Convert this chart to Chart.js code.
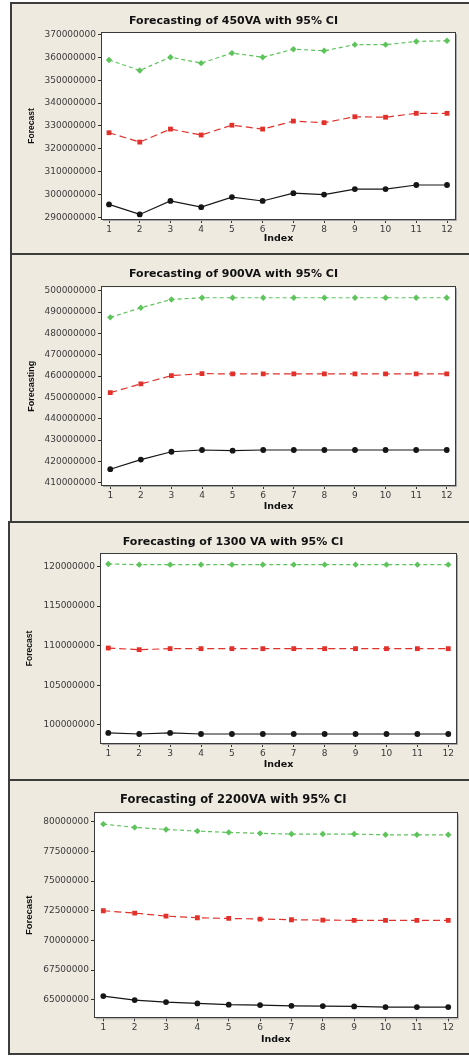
<!DOCTYPE html>
<html>
<head>
<meta charset="utf-8">
<script src="https://cdn.jsdelivr.net/npm/chart.js@4.4.1/dist/chart.umd.min.js"></script>
<style>
  html, body { margin: 0; padding: 0; background: #fff; }
  body { width: 469px; height: 1056px; position: relative; overflow: hidden; }
  .panel { position: absolute; background: #eeeae0; border: 2px solid #3c3c3c; box-sizing: border-box; }
  .panel canvas { display: block; }
</style>
</head>
<body>
<div class="panel" id="p450"><canvas id="c450"></canvas></div>
<div class="panel" id="p900"><canvas id="c900"></canvas></div>
<div class="panel" id="p1300"><canvas id="c1300"></canvas></div>
<div class="panel" id="p2200"><canvas id="c2200"></canvas></div>
<script>
// ---- data ----
const indexLabels = [1, 2, 3, 4, 5, 6, 7, 8, 9, 10, 11, 12];

const va450Upper    = [358900000, 354300000, 360100000, 357500000, 361900000, 360100000, 363600000, 362900000, 365600000, 365600000, 367000000, 367300000];
const va450Forecast = [327000000, 322900000, 328600000, 326000000, 330300000, 328600000, 332100000, 331400000, 334000000, 333800000, 335500000, 335500000];
const va450Lower    = [295600000, 291200000, 297100000, 294400000, 298800000, 297100000, 300500000, 299900000, 302300000, 302300000, 304100000, 304100000];
const va450Ticks    = [290000000, 300000000, 310000000, 320000000, 330000000, 340000000, 350000000, 360000000, 370000000];

const va900Upper    = [487500000, 492000000, 495900000, 496700000, 496700000, 496700000, 496700000, 496700000, 496700000, 496700000, 496700000, 496700000];
const va900Forecast = [452200000, 456300000, 460200000, 461100000, 461000000, 461000000, 461000000, 461000000, 461000000, 461000000, 461000000, 461000000];
const va900Lower    = [416300000, 420800000, 424500000, 425300000, 425000000, 425300000, 425300000, 425300000, 425300000, 425300000, 425300000, 425300000];
const va900Ticks    = [410000000, 420000000, 430000000, 440000000, 450000000, 460000000, 470000000, 480000000, 490000000, 500000000];

const va1300Upper    = [120340000, 120250000, 120250000, 120250000, 120250000, 120250000, 120250000, 120250000, 120250000, 120250000, 120250000, 120250000];
const va1300Forecast = [109700000, 109490000, 109620000, 109620000, 109620000, 109620000, 109620000, 109620000, 109620000, 109620000, 109620000, 109620000];
const va1300Lower    = [98950000, 98820000, 98950000, 98820000, 98820000, 98820000, 98820000, 98820000, 98820000, 98820000, 98820000, 98820000];
const va1300Ticks    = [100000000, 105000000, 110000000, 115000000, 120000000];

const va2200Upper    = [79800000, 79520000, 79350000, 79210000, 79100000, 79020000, 78960000, 78960000, 78960000, 78900000, 78900000, 78900000];
const va2200Forecast = [72500000, 72300000, 72050000, 71910000, 71850000, 71800000, 71740000, 71710000, 71690000, 71690000, 71690000, 71690000];
const va2200Lower    = [65310000, 64970000, 64800000, 64690000, 64580000, 64550000, 64490000, 64470000, 64440000, 64380000, 64380000, 64380000];
const va2200Ticks    = [65000000, 67500000, 70000000, 72500000, 75000000, 77500000, 80000000];

// ---- styles ----
const TICK_FONT = { family: 'DejaVu Sans', size: 9 };
const TICK_COLOR = '#3a3a3a';

const plotBox = {
  id: 'plotBox',
  beforeDraw(chart) {
    const a = chart.chartArea, ctx = chart.ctx;
    ctx.save();
    ctx.fillStyle = '#fff';
    ctx.fillRect(a.left, a.top, a.right - a.left, a.bottom - a.top);
    ctx.restore();
  },
  beforeDatasetsDraw(chart) {
    const a = chart.chartArea, ctx = chart.ctx;
    ctx.save();
    ctx.strokeStyle = '#a8a8a8';
    ctx.lineWidth = 1;
    ctx.beginPath();
    ctx.moveTo(a.right + 1.5, a.top + 1);
    ctx.lineTo(a.right + 1.5, a.bottom + 1.5);
    ctx.lineTo(a.left + 1, a.bottom + 1.5);
    ctx.stroke();
    ctx.strokeStyle = '#3a3a3a';
    ctx.strokeRect(Math.round(a.left) - 0.5, Math.round(a.top) - 0.5,
      Math.round(a.right - a.left) + 1, Math.round(a.bottom - a.top) + 1);
    ctx.restore();
  }
};

function series(vals, color, dash, shape, radius) {
  return {
    data: indexLabels.map((x, i) => ({ x, y: vals[i] })),
    borderColor: color,
    backgroundColor: color,
    borderWidth: 1.2,
    borderDash: dash,
    pointStyle: shape,
    pointRadius: radius,
    pointBorderWidth: 0,
    tension: 0
  };
}

function buildChart(cfg) {
  const panel = document.getElementById(cfg.panel);
  const box = cfg.box;
  Object.assign(panel.style, {
    left: box.left + 'px', top: box.top + 'px',
    width: box.width + 'px', height: box.height + 'px'
  });
  const ox = box.left + 2, oy = box.top + 2;
  const cw = box.width - 4, ch = box.height - 4;
  const canvas = document.getElementById(cfg.canvas);
  canvas.width = cw; canvas.height = ch;
  canvas.style.width = cw + 'px'; canvas.style.height = ch + 'px';

  const p = cfg.plot;
  const titleLH = cfg.titleSize * 1.2;
  const titlePadTop = cfg.titleY - oy - titleLH / 2;
  const titlePadBottom = (p.top - oy) - titlePadTop - titleLH;
  const idxSize = 9.5, idxLH = idxSize * 1.2;
  const xBottom = cfg.indexY + idxLH / 2 + 2;
  const yTitleLH = cfg.yTitleSize * 1.2;

  new Chart(canvas, {
    type: 'line',
    data: {
      datasets: [
        series(cfg.lower, '#161616', [], 'circle', 2.9),
        series(cfg.forecast, '#e2302a', [7, 4], 'rect', 3.4),
        series(cfg.upper, '#5cc45a', [4, 3], 'rectRot', 3.2)
      ]
    },
    options: {
      responsive: false,
      animation: false,
      layout: {
        padding: { left: 0, top: 0, right: cw - (p.right - ox), bottom: ch - (xBottom - oy) }
      },
      plugins: {
        legend: { display: false },
        tooltip: { enabled: false },
        title: {
          display: true,
          text: cfg.title,
          color: '#111',
          font: { family: 'DejaVu Sans', weight: 'bold', size: cfg.titleSize, lineHeight: 1.2 },
          padding: { top: titlePadTop, bottom: titlePadBottom }
        }
      },
      scales: {
        x: {
          type: 'linear',
          min: cfg.xMin, max: cfg.xMax,
          afterFit: (s) => { s.height = xBottom - p.bottom; },
          afterBuildTicks: (s) => { s.ticks = indexLabels.map((v) => ({ value: v })); },
          border: { display: false },
          grid: { drawOnChartArea: false, drawTicks: true, tickLength: 4, color: '#333' },
          ticks: {
            autoSkip: false, maxRotation: 0,
            padding: 1, font: TICK_FONT, color: TICK_COLOR,
            callback: (v) => String(v)
          },
          title: {
            display: true, text: 'Index', color: '#111',
            font: { family: 'DejaVu Sans', weight: 'bold', size: idxSize, lineHeight: 1.2 },
            padding: { top: 0, bottom: 2 }
          }
        },
        y: {
          min: cfg.yMin, max: cfg.yMax,
          afterFit: (s) => { s.width = p.left - ox; },
          afterBuildTicks: (s) => { s.ticks = cfg.ticks.map((v) => ({ value: v })); },
          border: { display: false },
          grid: { drawOnChartArea: false, drawTicks: true, tickLength: 4, color: '#333' },
          ticks: {
            autoSkip: false,
            padding: 2, font: TICK_FONT, color: TICK_COLOR,
            callback: (v) => Math.round(v).toString()
          },
          title: {
            display: true, text: cfg.yTitle, color: '#111',
            font: { family: 'Liberation Sans', weight: 'bold', size: cfg.yTitleSize, lineHeight: 1.2 },
            padding: { top: cfg.yTitleX - ox - yTitleLH / 2, bottom: 0 }
          }
        }
      }
    },
    plugins: [plotBox]
  });
}

buildChart({
  panel: 'p450', canvas: 'c450',
  box: { left: 10, top: 2, width: 462, height: 253 },
  plot: { left: 102, right: 455, top: 33, bottom: 219 },
  title: 'Forecasting of 450VA with 95% CI', titleSize: 11, titleY: 21,
  yTitle: 'Forecast', yTitleSize: 8.5, yTitleX: 31.7, indexY: 239,
  xMin: 0.772, xMax: 12.26, yMin: 289200000, yMax: 370700000, ticks: va450Ticks,
  upper: va450Upper, forecast: va450Forecast, lower: va450Lower
});

buildChart({
  panel: 'p900', canvas: 'c900',
  box: { left: 10, top: 253, width: 462, height: 270 },
  plot: { left: 102, right: 455, top: 287.3, bottom: 485 },
  title: 'Forecasting of 900VA with 95% CI', titleSize: 11, titleY: 274,
  yTitle: 'Forecasting', yTitleSize: 9, yTitleX: 31.7, indexY: 507,
  xMin: 0.73, xMax: 12.27, yMin: 408900000, yMax: 501600000, ticks: va900Ticks,
  upper: va900Upper, forecast: va900Forecast, lower: va900Lower
});

buildChart({
  panel: 'p1300', canvas: 'c1300',
  box: { left: 8, top: 521, width: 464, height: 260 },
  plot: { left: 101, right: 456, top: 554, bottom: 743 },
  title: 'Forecasting of 1300 VA with 95% CI', titleSize: 11, titleY: 542,
  yTitle: 'Forecast', yTitleSize: 8.5, yTitleX: 30, indexY: 765,
  xMin: 0.764, xMax: 12.25, yMin: 97680000, yMax: 121600000, ticks: va1300Ticks,
  upper: va1300Upper, forecast: va1300Forecast, lower: va1300Lower
});

buildChart({
  panel: 'p2200', canvas: 'c2200',
  box: { left: 8, top: 779, width: 464, height: 276 },
  plot: { left: 95, right: 456.7, top: 813.3, bottom: 1017.3 },
  title: 'Forecasting of 2200VA with 95% CI', titleSize: 11.5, titleY: 800,
  yTitle: 'Forecast', yTitleSize: 9.5, yTitleX: 29.3, indexY: 1040,
  xMin: 0.735, xMax: 12.27, yMin: 63520000, yMax: 80710000, ticks: va2200Ticks,
  upper: va2200Upper, forecast: va2200Forecast, lower: va2200Lower
});
</script>
</body>
</html>
